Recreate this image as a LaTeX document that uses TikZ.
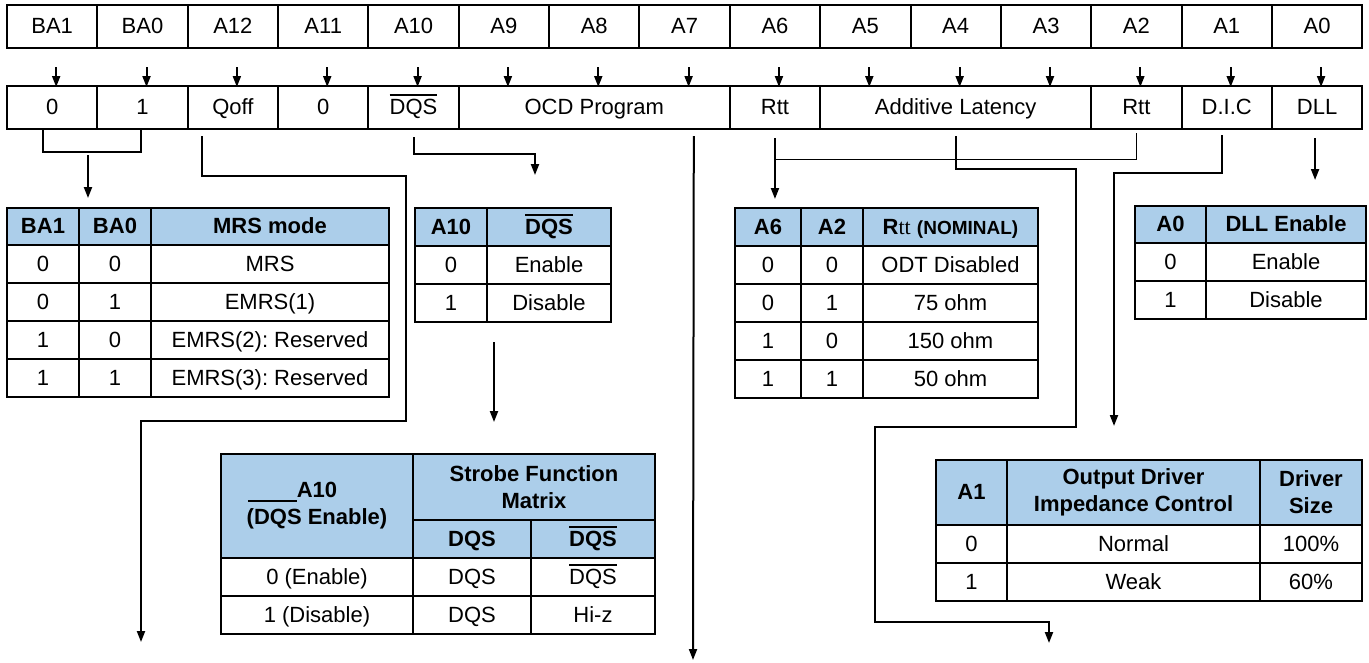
\documentclass[tikz,border=0pt]{standalone}
\usepackage{fontspec}
\setmainfont{Liberation Sans}
\newfontfamily\ttserif{Liberation Serif}
\usetikzlibrary{arrows.meta}
\definecolor{headblue}{RGB}{172,206,234}
\frenchspacing
\newcommand{\ovl}[1]{\leavevmode\vbox{\hrule height 2pt\kern 3pt\hbox{#1}}}
\newcommand{\tcell}[7][]{\node[cellbox,#1,minimum width={((#5)-(#3))*1pt},minimum height={((#6)-(#4))*1pt}] (#2) at ({((#3)+(#5))/2},{((#4)+(#6))/2}) {#7};}

\begin{document}
\begin{tikzpicture}[x=1pt,y=-1pt,
	cellbox/.style={draw,line width=2pt,inner sep=0pt,align=center,text height=17pt,text depth=3pt,font=\fontsize{22}{27}\selectfont},
	head/.style={fill=headblue,font=\fontsize{22}{27}\selectfont\bfseries},
	multi/.style={head,text height={},text depth={}},
	conn/.style={line width=2pt},
	thinconn/.style={line width=1pt},
	arr/.style={conn,-{Triangle[length=11pt,width=8pt]}}]
	\useasboundingbox (0,0) rectangle (1369,662);

	\foreach \lbl [count=\i] in {BA1,BA0,A12,A11,A10,A9,A8,A7,A6,A5,A4,A3,A2,A1,A0}
		\node[cellbox,minimum width=90.35pt,minimum height=43pt] (top\i) at ({7+(\i-0.5)*90.35},26.5) {\lbl};
	\foreach \lbl/\a/\b/\nm in {0/1/1/ba1,1/2/2/ba0,Qoff/3/3/qoff,0/4/4/a11,{\ovl{DQS}}/5/5/dqs,OCD Program/6/8/ocd,Rtt/9/9/rtta,Additive Latency/10/12/al,Rtt/13/13/rttb,D.I.C/14/14/dic,DLL/15/15/dll}
		\node[cellbox,minimum width={(\b-\a+1)*90.35pt},minimum height=43pt] (\nm) at ({7+(\a+\b-1)/2*90.35},107.5) {\lbl};
	\foreach \i in {1,...,15}
		\draw[arr] ([xshift=4pt,yshift=-18pt]top\i.south) -- ([xshift=4pt,yshift=-38pt]top\i.south);

	% MRS mode
	\tcell[head]{mrsH1}{7}{208}{79}{245}{BA1}
	\tcell[head]{mrsH2}{79}{208}{151}{245}{BA0}
	\tcell[head]{mrsH3}{151}{208}{389}{245}{MRS mode}
	\foreach \p/\q/\m [count=\k] in {0/0/MRS,0/1/EMRS(1),1/0/EMRS(2): Reserved,1/1/EMRS(3): Reserved}{
		\tcell{mrs\k a}{7}{207+\k*38}{79}{245+\k*38}{\p}
		\tcell{mrs\k b}{79}{207+\k*38}{151}{245+\k*38}{\q}
		\tcell{mrs\k c}{151}{207+\k*38}{389}{245+\k*38}{\m}
	}

	% DQS
	\tcell[head]{dqsH1}{415}{208}{487}{246}{A10}
	\tcell[head]{dqsH2}{487}{208}{611}{246}{\ovl{DQS}}
	\tcell{dqsR1a}{415}{246}{487}{284}{0}
	\tcell{dqsR1b}{487}{246}{611}{284}{Enable}
	\tcell{dqsR2a}{415}{284}{487}{322}{1}
	\tcell{dqsR2b}{487}{284}{611}{322}{Disable}

	% strobe
	\tcell[multi]{stbH1}{221}{454}{413}{558}{\llap{\rule[-4pt]{49pt}{2pt}}A10\\(DQS Enable)}
	\tcell[multi]{stbH2}{413}{454}{655}{520}{Strobe Function\\Matrix}
	\tcell[head]{stbH3}{413}{520}{531}{558}{DQS}
	\tcell[head]{stbH4}{531}{520}{655}{558}{\ovl{DQS}}
	\tcell{stbR1a}{221}{558}{413}{596}{0 (Enable)}
	\tcell{stbR1b}{413}{558}{531}{596}{DQS}
	\tcell{stbR1c}{531}{558}{655}{596}{\ovl{DQS}}
	\tcell{stbR2a}{221}{596}{413}{634}{1 (Disable)}
	\tcell{stbR2b}{413}{596}{531}{634}{DQS}
	\tcell{stbR2c}{531}{596}{655}{634}{Hi-z}

	% Rtt
	\tcell[head]{rttH1}{735}{208}{801}{246}{A6}
	\tcell[head]{rttH2}{801}{208}{863}{246}{A2}
	\tcell[head]{rttH3}{863}{208}{1038}{246}{R{\mdseries\ttserif tt} {\fontsize{19}{22}\selectfont(NOMINAL)}}
	\foreach \p/\q/\m [count=\k] in {0/0/ODT Disabled,0/1/75 ohm,1/0/150 ohm,1/1/50 ohm}{
		\tcell{rtt\k a}{735}{208+\k*38}{801}{246+\k*38}{\p}
		\tcell{rtt\k b}{801}{208+\k*38}{863}{246+\k*38}{\q}
		\tcell{rtt\k c}{863}{208+\k*38}{1038}{246+\k*38}{\m}
	}

	% DLL
	\tcell[head]{dllH1}{1135}{206}{1206}{243}{A0}
	\tcell[head]{dllH2}{1206}{206}{1366}{243}{DLL Enable}
	\tcell{dllR1a}{1135}{243}{1206}{281}{0}
	\tcell{dllR1b}{1206}{243}{1366}{281}{Enable}
	\tcell{dllR2a}{1135}{281}{1206}{319}{1}
	\tcell{dllR2b}{1206}{281}{1366}{319}{Disable}

	% D.I.C
	\tcell[head]{dicH1}{936}{460}{1007}{525}{A1}
	\tcell[multi]{dicH2}{1007}{460}{1260}{525}{Output Driver\\Impedance Control}
	\tcell[multi]{dicH3}{1260}{460}{1362}{525}{Driver\\Size}
	\tcell{dicR1a}{936}{525}{1007}{563}{0}
	\tcell{dicR1b}{1007}{525}{1260}{563}{Normal}
	\tcell{dicR1c}{1260}{525}{1362}{563}{100\%}
	\tcell{dicR2a}{936}{563}{1007}{601}{1}
	\tcell{dicR2b}{1007}{563}{1260}{601}{Weak}
	\tcell{dicR2c}{1260}{563}{1362}{601}{60\%}

	\coordinate (baSplit) at (88,155);
	\coordinate (qoffEnd) at (141,642);
	\coordinate (dqsEnd) at (535,175);
	\coordinate (dqsOut) at ([xshift=6pt,yshift=-19pt]dqsR2a.south east);
	\coordinate (ocdOut) at ([xshift=-37pt,yshift=-6pt]ocd.south east);
	\coordinate (ocdEnd) at (693,660);
	\coordinate (rttOut) at ([yshift=-8pt]rtta.south);
	\coordinate (alEnd) at (1049,643);
	\coordinate (dicEnd) at (1114,426);

	\draw[conn] ([xshift=-9pt]ba1.south) -- ++(0,22) -| ([xshift=-1.5pt]ba0.south);
	\draw[arr,shorten >=9pt] (baSplit) -- (baSplit |- mrsH2.north);
	\draw[arr] ([xshift=-31pt,yshift=-6pt]qoff.south) -- ++(0,40) -| (406,421) -| (qoffEnd);
	\draw[arr] ([yshift=-7pt]dqs.south) -- ++(0,17) -| (dqsEnd);
	\draw[arr,shorten >=31pt] (dqsOut) -- (dqsOut |- stbH2.north);
	\draw[arr] (ocdOut) -- (ocdEnd);
	\draw[arr,shorten >=8pt] (rttOut) -- (rttOut |- rttH1.north);
	\draw[thinconn] ([yshift=-3pt]rttb.south) |- ([yshift=-29pt]rtta.south);
	\draw[arr] ([yshift=-6pt]al.south) -- ++(0,33) -| (1076,427) -| (875,622) -| (alEnd);
	\draw[arr] ([xshift=-5pt,yshift=-5pt]dic.south) -- ++(0,38) -| (dicEnd);
	\draw[arr] ([xshift=-2pt,yshift=-8pt]dll.south) -- ([xshift=-2pt,yshift=-50pt]dll.south);
\end{tikzpicture}
\end{document}
